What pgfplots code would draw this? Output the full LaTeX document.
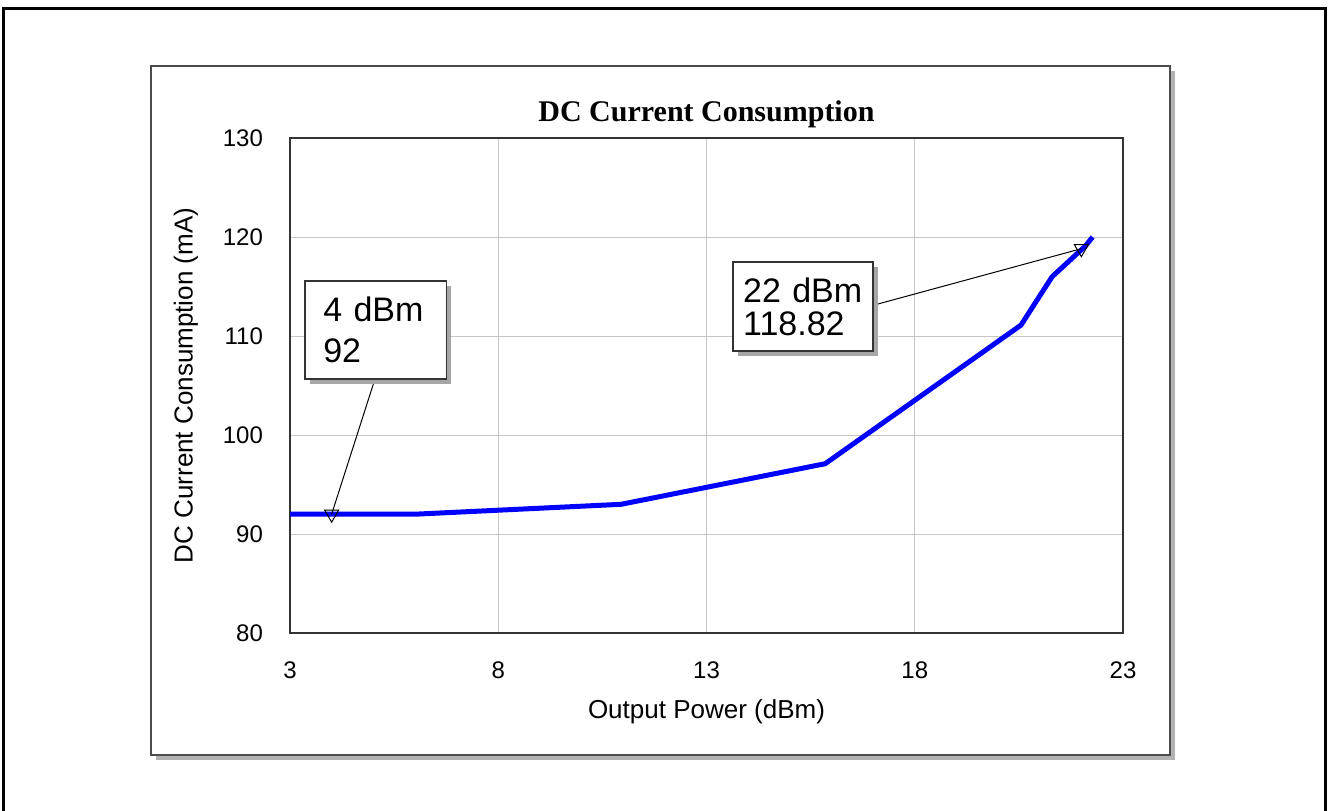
\documentclass[border=0pt]{standalone}
\usepackage{pgfplots}
\pgfplotsset{compat=1.18}
\usepackage{fontspec}
\setmainfont{Liberation Sans}
\newfontfamily\titlefont{Liberation Serif}
\usetikzlibrary{shadows}

\begin{document}
\begin{tikzpicture}[x=1pt,y=1pt]
\useasboundingbox (0,0) rectangle (664,405);
% outer frame (bottom edge lies off the page)
\draw[line width=1.5pt] (1.5,-5) -- (1.5,400.5) -- (662.5,400.5) -- (662.5,-5);
% chart panel with shadow
\fill[gray!60] (78,25) rectangle (587.5,369.5);
\draw[fill=white, draw=black!70, line width=1pt] (75.5,27.5) rectangle (585,372);
\begin{axis}[
    at={(145pt,88.5pt)}, anchor=south west,
    scale only axis, width=416.5pt, height=247.5pt,
    xmin=3, xmax=23, ymin=80, ymax=130,
    xtick={3,8,...,23}, ytick={80,90,...,130},
    grid=major,
    major grid style={gray!45, line width=0.5pt},
    major tick length=0pt,
    axis line style={black!80, line width=1pt},
    ticklabel style={font=\fontsize{12}{14}\selectfont},
    /pgf/number format/assume math mode=true,
    yticklabel style={xshift=-10pt},
    xticklabel style={yshift=-11pt},
    title={DC Current Consumption},
    title style={at={(axis description cs:0.5,1.0485)}, anchor=center, yshift=-6pt,
        font=\titlefont\bfseries\fontsize{15}{17}\selectfont},
    xlabel={Output Power (dBm)},
    xlabel style={at={(axis description cs:0.5,-0.16)}, anchor=center,
        font=\fontsize{13}{15}\selectfont},
    ylabel={DC Current Consumption (mA)},
    ylabel style={at={(axis description cs:-0.125,0.5)}, anchor=center,
        font=\fontsize{13}{15}\selectfont},
    clip=false,
  ]
  \addplot[blue, line width=2.5pt, line join=round] coordinates {
    (3,92) (6,92) (10.95,93) (15.85,97.1) (20.55,111.1) (21.3,116) (22.1,119.1) (22.27,120)
  };
  \draw[black, line width=0.5pt] (axis cs:5.04,105.66) -- (axis cs:4,92);
  \draw[black, line width=0.5pt] (axis cs:17.0,113.1) -- (axis cs:22,118.82);
  \addplot[only marks, mark=triangle, mark size=4pt,
    mark options={rotate=180, fill=white, draw=black, line width=0.5pt}]
    coordinates {(4,92) (22,118.82)};
  \node[draw=black!80, fill=white, line width=0.8pt,
    drop shadow={shadow xshift=2.5pt, shadow yshift=-2.5pt, fill=gray!70, opacity=1},
    minimum height=49pt, text width=52.5pt, inner xsep=9pt, align=left,
    font=\fontsize{17}{20.5}\selectfont]
    at (axis cs:5.06,110.6) {4 dBm\\92};
  \node[draw=black!80, fill=white, line width=0.8pt,
    drop shadow={shadow xshift=2.5pt, shadow yshift=-2.5pt, fill=gray!70, opacity=1},
    minimum height=44.5pt, text width=60pt, inner xsep=5pt, align=left,
    font=\fontsize{17}{16.5}\selectfont]
    at (axis cs:15.32,112.98) {22 dBm\\118.82};
\end{axis}
\end{tikzpicture}
\end{document}
